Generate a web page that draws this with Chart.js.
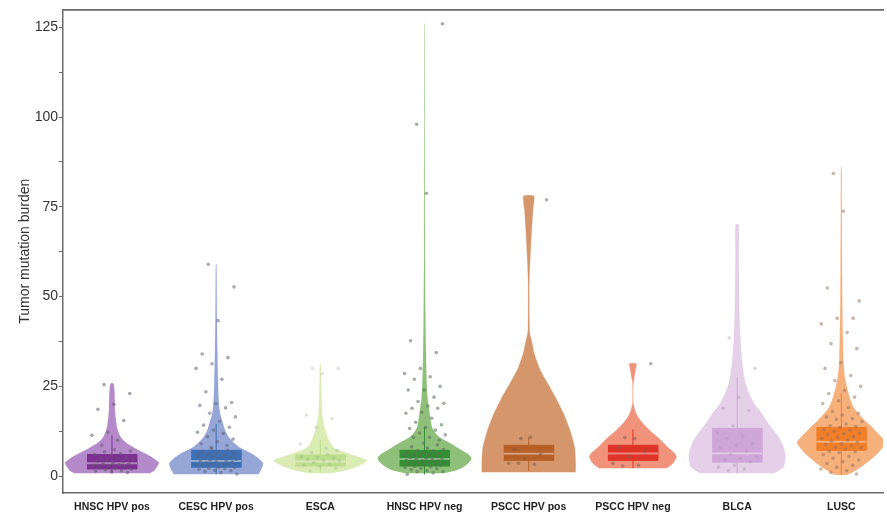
<!DOCTYPE html>
<html>
<head>
<meta charset="utf-8">
<script src="https://cdn.jsdelivr.net/npm/chart.js@4.4.1/dist/chart.umd.min.js"></script>
<style>
  html, body { margin: 0; padding: 0; background: #fff; }
  canvas { display: block; }
</style>
</head>
<body>
<canvas id="violinChart" width="887" height="514"></canvas>
<script>
// categories and y ticks
const categories = ["HNSC HPV pos", "CESC HPV pos", "ESCA", "HNSC HPV neg", "PSCC HPV pos", "PSCC HPV neg", "BLCA", "LUSC"];
const yTicks = [0, 12.5, 25, 37.5, 50, 62.5, 75, 87.5, 100, 112.5, 125];

// box plot stats per category
const whiskerLow  = [0.8, 0.5, 1.0, 0.5, 1.5, 2.2, 0.8, 0.3];
const boxQ1       = [2.0, 2.5, 2.8, 2.8, 4.4, 4.4, 3.9, 7.2];
const boxMedian   = [3.6, 4.2, 4.1, 4.8, 6.2, 6.3, 6.3, 9.6];
const boxQ3       = [6.0, 7.2, 5.9, 7.2, 8.6, 8.6, 13.3, 13.6];
const whiskerHigh = [11.4, 14.5, 10.0, 13.6, 10.8, 13.0, 27.5, 23.0];

// violin outlines: [value, relative width]
const violinHnscPos = [[0.8,0.8],[1.5,0.9],[3,0.98],[3.8,1.0],[5,0.88],[6.2,0.72],[7,0.6],[8,0.46],[9,0.33],[10,0.24],[11,0.18],[12.5,0.13],[14,0.1],[16,0.08],[18,0.065],[21,0.06],[24,0.05],[25.8,0.03]];
const violinCescPos = [[0.5,0.9],[1.8,0.96],[3.6,1.0],[5,0.9],[6.1,0.78],[7,0.65],[8,0.5],[9.4,0.37],[10.8,0.27],[12.8,0.19],[14.9,0.14],[17,0.09],[18.6,0.07],[22,0.05],[26,0.04],[35,0.025],[45,0.015],[55,0.01],[59,0.005]];
const violinEsca    = [[0.8,0.2],[1.5,0.5],[2.5,0.75],[3.5,0.92],[4.4,1.0],[5.4,0.8],[6.4,0.57],[7.2,0.4],[8,0.28],[9.5,0.2],[10.8,0.16],[12.5,0.11],[14,0.08],[16,0.05],[18,0.035],[22,0.025],[27,0.015],[31,0.01]];
const violinHnscNeg = [[0.8,0.4],[1.5,0.65],[2.5,0.82],[3.8,0.95],[5,1.0],[6.2,0.92],[7.2,0.79],[8.2,0.67],[9.2,0.54],[10.8,0.32],[12.2,0.22],[13.6,0.16],[15.5,0.13],[17.5,0.11],[21,0.07],[25,0.05],[29,0.04],[35,0.03],[45,0.02],[60,0.012],[80,0.008],[100,0.006],[126,0.004]];
const violinPsccPos = [[1.1,1.0],[4,1.0],[8,0.98],[12.8,0.88],[17.5,0.74],[22,0.57],[26.6,0.37],[30,0.23],[34,0.12],[37.7,0.06],[40,0.02],[45,0.012],[54,0.012],[59,0.025],[68,0.06],[74,0.09],[78,0.11]];
const violinPsccNeg = [[2.2,0.72],[3.5,0.85],[5.3,0.93],[6.5,0.88],[8,0.75],[9.4,0.64],[10.8,0.53],[12.2,0.4],[13.6,0.29],[15,0.19],[16.4,0.11],[17.7,0.06],[19,0.03],[20.5,0.006],[24,0.004],[25.8,0.008],[28,0.035],[30,0.06],[31.3,0.075]];
const violinBlca    = [[0.8,0.78],[2.5,0.98],[4.5,1.02],[6.4,1.02],[8.2,0.98],[10,0.92],[12,0.82],[13.6,0.72],[15.5,0.62],[17.5,0.52],[20,0.37],[23,0.25],[26,0.17],[29,0.13],[32,0.1],[37,0.07],[45,0.045],[55,0.035],[62,0.03],[70,0.03]];
const violinLusc    = [[0.3,0.1],[0.8,0.2],[2.2,0.38],[3.6,0.53],[5,0.66],[6.4,0.78],[8,0.88],[9.4,0.95],[11,0.85],[12.4,0.74],[13.6,0.66],[15.5,0.5],[17.5,0.36],[19,0.27],[21,0.2],[24.7,0.12],[28,0.07],[32,0.045],[40,0.03],[50,0.02],[60,0.015],[75,0.01],[86,0.007]];

// individual samples (tumor mutation burden)
const pointsHnscPos = [25.5,23,20,18.6,15.5,12.2,11.4,10,8.6,1,1.2,1.4,1.5,1.8,2,2.2,2.5,2.7,2.9,3,3.2,3.4,3.5,3.7,4,4.1,4.3,4.6,5,5.1,5.4,5.8,6,6.3,6.8,7,7.4];
const pointsCescPos = [59,52.7,43.3,34,33,31.3,30,27,23.5,20.5,20.2,19.7,19,17.5,16.5,15.3,14.2,13.6,12.8,12.2,11.9,11,10.3,9.6,9,8.5,8,0.6,1,1.3,1.5,1.6,1.9,2.1,2.2,2.4,2.5,2.8,3,3.2,3.3,3.5,3.7,3.9,4,4.1,4.2,4.4,4.7,4.9,5,5.3,5.5,5.6,5.8,6,6.4,6.6,6.8,7.2,7.6];
const pointsEsca    = [30,30,28.5,17,16,13.6,9,7.8,1.5,2.2,2.8,3,3.3,3.8,4.2,4.4,4.6,5,5.2,5.5,6,6.6,7.2];
const pointsHnscNeg = [98,126,78.8,37.7,34.4,30,28.6,27.7,27,25,24,24,22,20.8,20.3,19.5,18.9,18.9,17.8,17.5,16.1,15,14.3,13.6,13.3,12.8,12,11.5,10.8,10.8,10,9.2,0.5,0.9,1.2,1.3,1.5,1.8,2.1,2.2,2.4,2.6,2.7,3,3.1,3.2,3.4,3.6,3.8,3.9,4,4.2,4.3,4.4,4.6,4.7,4.8,5,5.2,5.5,5.6,5.8,5.9,6.1,6.3,6.4,6.7,7,7.1,7.4,7.8,8.2,8.7];
const pointsPsccPos = [10.5,77,10.8,7.5,6,5,3.6,3.3,3.6];
const pointsPsccNeg = [10.8,31.3,10.5,8,7,5.5,3.6,3,2.8];
const pointsBlca    = [38.5,30,22,18.9,18.3,14,12,11,10.5,9,8.5,8,7,6,5.5,5,4.5,4,3,2.5,2,1.5];
const pointsLusc    = [84.3,48.8,73.8,52.4,44,44,42.4,40,36.9,35.5,31.6,30,28,26.6,25,23.9,23,22,21,20.2,19.1,18,17.5,17,16.5,16,15.8,15.2,14.5,14,13.8,13.5,13,12.8,12.5,12,11.8,11.5,11,10.8,10.5,10,9.8,9.5,9,8.8,8.5,8,7.8,7.5,7,6.8,6.5,6,5.5,5,4.5,4,3.5,3,2.5,2,1.5,1,0.6];

const violins = [violinHnscPos, violinCescPos, violinEsca, violinHnscNeg, violinPsccPos, violinPsccNeg, violinBlca, violinLusc];
const samples = [pointsHnscPos, pointsCescPos, pointsEsca, pointsHnscNeg, pointsPsccPos, pointsPsccNeg, pointsBlca, pointsLusc];

// colours
const violinColors = ["rgb(180,138,203)", "rgb(150,166,215)", "rgb(218,236,180)", "rgb(142,192,122)", "rgb(212,150,106)", "rgb(241,146,122)", "rgb(229,207,233)", "rgb(246,176,124)"];
const violinEdges  = ["rgba(180,138,203,0.35)", "rgba(150,166,215,0.3)", "rgba(218,236,180,0.35)", "rgba(160,205,140,0.15)", "rgba(212,150,106,0.5)", "rgba(241,146,122,0.5)", "rgba(210,185,215,0.55)", "rgba(246,176,124,0.25)"];
const boxColors    = ["rgb(124,48,146)", "rgb(62,112,182)", "rgb(190,221,142)", "rgb(52,142,52)", "rgb(182,96,40)", "rgb(222,52,40)", "rgb(206,166,216)", "rgb(241,126,40)"];
const pointColors  = ["rgba(100,90,105,0.55)", "rgba(95,100,120,0.55)", "rgba(150,170,140,0.3)", "rgba(90,110,90,0.55)", "rgba(110,90,80,0.5)", "rgba(120,90,90,0.5)", "rgba(170,150,175,0.4)", "rgba(150,110,90,0.5)"];

const halfViolin = 0.45;
const halfBox = 0.24;
const jitterWidth = 0.2;

const datasets = [];

violins.forEach((profile, i) => {
  const left = profile.map(([v, w]) => ({ x: i - w * halfViolin, y: v }));
  const right = profile.slice().reverse().map(([v, w]) => ({ x: i + w * halfViolin, y: v }));
  datasets.push({
    data: left.concat(right),
    showLine: true,
    fill: "shape",
    backgroundColor: violinColors[i],
    borderColor: violinEdges[i],
    borderWidth: 0.6,
    pointRadius: 0,
    tension: 0.2,
    order: 6
  });
  datasets.push({
    data: [{ x: i, y: whiskerLow[i] }, { x: i, y: whiskerHigh[i] }],
    showLine: true,
    borderColor: boxColors[i],
    borderWidth: 1,
    pointRadius: 0,
    order: 5
  });
  datasets.push({
    data: [
      { x: i - halfBox, y: boxQ1[i] }, { x: i + halfBox, y: boxQ1[i] },
      { x: i + halfBox, y: boxQ3[i] }, { x: i - halfBox, y: boxQ3[i] }
    ],
    showLine: true,
    fill: "shape",
    backgroundColor: boxColors[i],
    borderColor: boxColors[i],
    borderWidth: 1,
    pointRadius: 0,
    order: 4
  });
  datasets.push({
    data: [{ x: i - halfBox, y: boxMedian[i] }, { x: i + halfBox, y: boxMedian[i] }],
    showLine: true,
    borderColor: "rgba(255,255,255,0.4)",
    borderWidth: 2,
    pointRadius: 0,
    order: 3
  });
  datasets.push({
    data: samples[i].map((v, k) => ({ x: i + (((k * 0.618034 + 0.31) % 1) - 0.5) * 2 * jitterWidth, y: v })),
    showLine: false,
    pointRadius: 1.8,
    pointBorderWidth: 0,
    pointBackgroundColor: pointColors[i],
    order: 1
  });
});

const axisColor = "#6b6b6b";
const font = "'Liberation Sans', Arial, sans-serif";

new Chart(document.getElementById("violinChart"), {
  type: "scatter",
  data: { datasets },
  options: {
    responsive: false,
    animation: false,
    layout: { padding: 0 },
    plugins: { legend: { display: false }, tooltip: { enabled: false } },
    scales: {
      x: {
        type: "linear",
        min: -0.47,
        max: 7.4,
        afterBuildTicks: s => { s.ticks = categories.map((c, i) => ({ value: i })); },
        afterFit: s => { s.height = 21; },
        ticks: {
          callback: v => categories[v],
          autoSkip: false,
          maxRotation: 0,
          padding: 0,
          color: "#222",
          font: { family: font, size: 10.5, weight: "bold" }
        },
        grid: { display: false, drawTicks: true, tickLength: 8 },
        border: { color: axisColor, width: 1.5 }
      },
      xTop: {
        type: "linear",
        position: "top",
        axis: "x",
        min: -0.47,
        max: 7.4,
        afterFit: s => { s.height = 7; },
        ticks: { display: false },
        grid: { display: false },
        border: { color: axisColor, width: 1.8 }
      },
      y: {
        min: -4.7,
        max: 130,
        afterBuildTicks: s => { s.ticks = yTicks.map(v => ({ value: v })); },
        afterFit: s => { s.width = 63; },
        ticks: {
          callback: v => (v % 25 === 0 ? v : ""),
          padding: 1,
          color: "#333",
          font: { family: font, size: 14 }
        },
        grid: { drawOnChartArea: false, tickLength: 4, color: axisColor, tickWidth: 1 },
        border: { color: axisColor, width: 1.5 },
        title: {
          display: true,
          text: "Tumor mutation burden",
          color: "#333",
          padding: { top: 17, bottom: 0 },
          font: { family: font, size: 14 }
        }
      }
    }
  }
});
</script>
</body>
</html>
